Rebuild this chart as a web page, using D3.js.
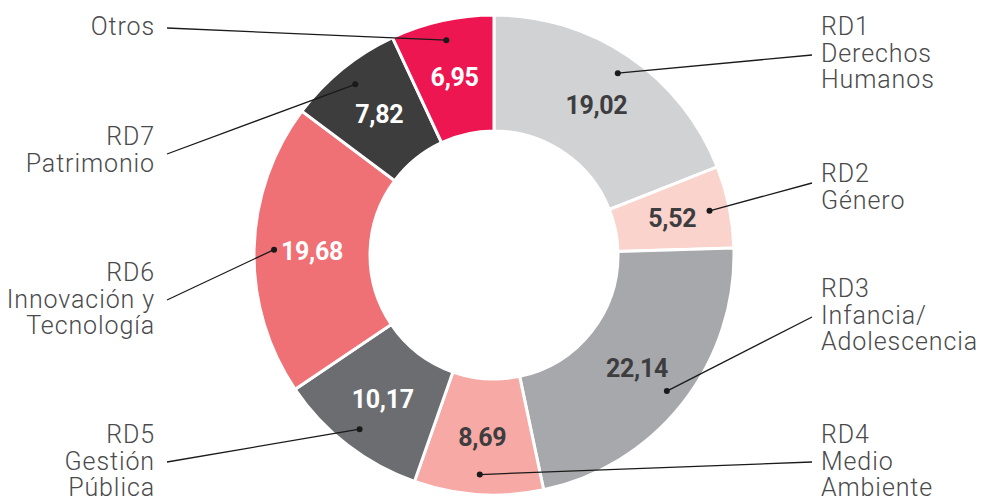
<!DOCTYPE html>
<html>
<head>
<meta charset="utf-8">
<script src="https://cdn.jsdelivr.net/npm/d3@7"></script>
<style>
  body { margin: 0; background: #fff; }
  svg { display: block; }
</style>
</head>
<body>
<div id="chart"></div>
<script>
// data
const categories = ["RD1", "RD2", "RD3", "RD4", "RD5", "RD6", "RD7", "Otros"];
const values = [19.02, 5.52, 22.14, 8.69, 10.17, 19.68, 7.82, 6.95];
const valueLabels = ["19,02", "5,52", "22,14", "8,69", "10,17", "19,68", "7,82", "6,95"];
const nameLines = [
  ["RD1", "Derechos", "Humanos"],
  ["RD2", "Género"],
  ["RD3", "Infancia/", "Adolescencia"],
  ["RD4", "Medio", "Ambiente"],
  ["RD5", "Gestión", "Pública"],
  ["RD6", "Innovación y", "Tecnología"],
  ["RD7", "Patrimonio"],
  ["Otros"]
];
const colors = ["#d1d2d4", "#f9d3cc", "#a7a8ab", "#f6a9a5", "#6c6d71", "#ef7075", "#3d3d3d", "#ee1651"];
const lightText = ["RD5", "RD6", "RD7", "Otros"];

const width = 983, height = 497;
const cx = 494, cy = 255;
const outerR = 240, innerR = 124;

// where each outside label sits (line end y, first baseline y)
const labelPos = {
  RD1: {side: "right", lineY: 55, textY: 35},
  RD2: {side: "right", lineY: 183, textY: 182},
  RD3: {side: "right", lineY: 317, textY: 297},
  RD4: {side: "right", lineY: 462, textY: 443},
  RD5: {side: "left", lineY: 462, textY: 443},
  RD6: {side: "left", lineY: 300, textY: 281},
  RD7: {side: "left", lineY: 154, textY: 145},
  Otros: {side: "left", lineY: 28, textY: 35}
};

const data = categories.map((c, i) => ({name: c, value: values[i], label: valueLabels[i], lines: nameLines[i]}));

const svg = d3.select("#chart").append("svg")
  .attr("width", width)
  .attr("height", height);

const g = svg.append("g").attr("transform", "translate(" + cx + "," + cy + ")");

const pie = d3.pie().sort(null).value(d => d.value);
const arcs = pie(data);

const arc = d3.arc().innerRadius(innerR).outerRadius(outerR);
const color = d3.scaleOrdinal().domain(categories).range(colors);

g.selectAll("path.slice")
  .data(arcs)
  .enter()
  .append("path")
  .attr("class", "slice")
  .attr("d", arc)
  .attr("fill", d => color(d.data.name))
  .attr("stroke", "#fff")
  .attr("stroke-width", 3);

// value labels
const labelArc = d3.arc().innerRadius(182).outerRadius(182);
g.selectAll("text.val")
  .data(arcs)
  .enter()
  .append("text")
  .attr("class", "val")
  .attr("transform", d => {
    const c = labelArc.centroid(d);
    return "translate(" + c[0] + "," + c[1] + ")";
  })
  .attr("text-anchor", "middle")
  .attr("dy", "0.36em")
  .style("font-family", "Roboto, 'Open Sans', sans-serif")
  .style("font-weight", 700)
  .style("font-size", "25px")
  .style("letter-spacing", "-0.3px")
  .style("fill", d => lightText.includes(d.data.name) ? "#ffffff" : "#3d3d3f")
  .text(d => d.data.label);

// leader lines with dots
const dotArc = d3.arc().innerRadius(220).outerRadius(220);
const leaders = g.append("g");
arcs.forEach(d => {
  const p = dotArc.centroid(d);
  const lp = labelPos[d.data.name];
  const ex = (lp.side === "right" ? 812 : 167) - cx;
  const ey = lp.lineY - cy;
  leaders.append("line")
    .attr("x1", p[0]).attr("y1", p[1])
    .attr("x2", ex).attr("y2", ey)
    .attr("stroke", "#1a1a1a")
    .attr("stroke-width", 1.3);
  leaders.append("circle")
    .attr("cx", p[0]).attr("cy", p[1])
    .attr("r", 3)
    .attr("fill", "#1a1a1a");
});

// category labels
const names = svg.append("g");
data.forEach(d => {
  const lp = labelPos[d.name];
  const right = lp.side === "right";
  const t = names.append("text")
    .attr("x", right ? 821 : 155)
    .attr("y", lp.textY)
    .attr("text-anchor", right ? "start" : "end")
    .style("font-family", "Roboto, 'Open Sans', sans-serif")
    .style("font-weight", 300)
    .style("font-size", "25px")
    .style("letter-spacing", "0.9px")
    .style("fill", "#4a4a4c");
  d.lines.forEach((ln, i) => {
    t.append("tspan")
      .attr("x", right ? 821 : 155)
      .attr("dy", i === 0 ? 0 : 26.5)
      .text(ln);
  });
});
</script>
</body>
</html>
